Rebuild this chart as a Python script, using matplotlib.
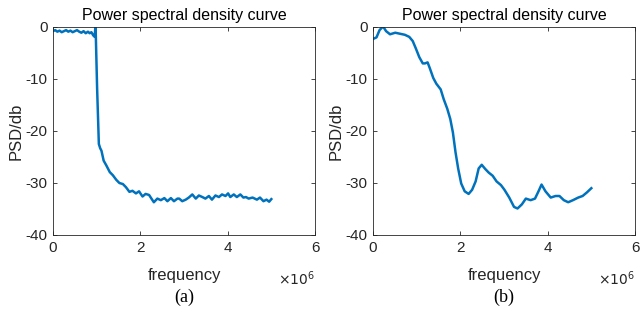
import numpy as np
import matplotlib
matplotlib.use('Agg')
import matplotlib.pyplot as plt

plt.rcParams['font.family'] = ['Liberation Sans', 'DejaVu Sans']

# (a) PSD curve, frequency in units of 1e6
freq_a = [0.00, 0.05, 0.10, 0.15, 0.20, 0.25, 0.30, 0.35, 0.40, 0.45, 0.50, 0.55,
          0.60, 0.65, 0.70, 0.75, 0.80, 0.84, 0.88, 0.92, 0.955, 0.97, 0.98, 1.01,
          1.05, 1.08, 1.11, 1.16, 1.22, 1.30, 1.37, 1.45, 1.52, 1.60, 1.67, 1.75,
          1.82, 1.90, 1.97, 2.05, 2.12, 2.20, 2.27, 2.31, 2.39, 2.47, 2.55, 2.62,
          2.70, 2.77, 2.85, 2.89, 2.96, 3.04, 3.11, 3.19, 3.27, 3.34, 3.42, 3.49,
          3.57, 3.64, 3.72, 3.80, 3.87, 3.95, 4.01, 4.06, 4.14, 4.21, 4.29, 4.36,
          4.42, 4.48, 4.57, 4.67, 4.74, 4.82, 4.89, 4.95, 5.00]
psd_a = [-0.8, -0.6, -0.9, -0.7, -1.0, -0.8, -0.6, -0.9, -0.7, -1.0, -0.8, -0.6,
         -0.9, -1.1, -0.8, -1.2, -0.9, -1.2, -1.0, -1.6, -1.9, 0.0, -1.5, -11.7,
         -22.5, -23.3, -23.8, -25.7, -26.6, -27.9, -28.5, -29.4, -30.0, -30.2, -30.8, -31.7,
         -31.5, -32.0, -31.6, -32.6, -32.1, -32.3, -33.2, -33.7, -33.0, -33.3, -32.9, -33.5,
         -32.9, -33.5, -33.0, -33.0, -33.5, -33.2, -32.8, -32.2, -33.0, -32.4, -32.7, -33.0,
         -32.5, -33.2, -32.4, -32.7, -32.2, -32.5, -32.0, -32.7, -32.2, -32.7, -32.2, -32.8,
         -32.7, -33.0, -32.8, -33.2, -32.8, -33.5, -33.2, -33.6, -33.1]

# (b) PSD curve
freq_b = [0.00, 0.08, 0.15, 0.23, 0.30, 0.39, 0.51, 0.62, 0.73, 0.83, 0.91,
          0.98, 1.06, 1.14, 1.19, 1.25, 1.30, 1.38, 1.45, 1.55, 1.62, 1.70,
          1.77, 1.83, 1.89, 1.95, 2.02, 2.10, 2.19, 2.27, 2.35, 2.42, 2.49,
          2.57, 2.65, 2.74, 2.83, 2.93, 3.01, 3.12, 3.23, 3.31, 3.41, 3.50,
          3.61, 3.71, 3.79, 3.86, 3.95, 4.07, 4.18, 4.27, 4.37, 4.47, 4.58,
          4.70, 4.80, 4.90, 5.00]
psd_b = [-2.3, -2.0, -0.6, 0.1, -0.8, -1.4, -1.1, -1.3, -1.5, -1.9, -2.7,
         -4.1, -5.8, -7.0, -7.0, -6.8, -7.9, -9.8, -10.9, -12.0, -13.9, -15.7,
         -17.7, -20.3, -24.1, -27.2, -30.1, -31.6, -32.1, -31.3, -29.7, -27.2, -26.5,
         -27.3, -28.0, -28.6, -29.7, -30.4, -31.3, -32.8, -34.6, -34.9, -34.1, -33.0,
         -33.3, -33.0, -31.6, -30.3, -31.6, -32.8, -32.5, -32.5, -33.3, -33.7, -33.3,
         -32.8, -32.5, -31.8, -31.0]

xticks = [0, 2, 4, 6]
yticks = [-40, -30, -20, -10, 0]
panel_labels = ['(a)', '(b)']

fig = plt.figure(figsize=(6.41, 3.16), dpi=100)
w, h = 262 / 641, 208 / 316
bottom = (316 - 235) / 316
lefts = [53 / 641, 373 / 641]
gray = '#262626'

for left, fx, py, lab in zip(lefts, [freq_a, freq_b], [psd_a, psd_b], panel_labels):
    ax = fig.add_axes([left, bottom, w, h])
    ax.plot(np.array(fx) * 1e6, py, color='#0072BD', lw=1.8)
    ax.set_xlim(0, 6e6)
    ax.set_ylim(-40, 0)
    ax.set_xticks([t * 1e6 for t in xticks])
    ax.set_xticklabels([str(t) for t in xticks])
    ax.set_yticks(yticks)
    ax.set_yticklabels([str(t) for t in yticks])
    ax.tick_params(direction='in', length=3, width=0.6, top=True, right=True,
                   labelsize=11, colors=gray, pad=4)
    for s in ax.spines.values():
        s.set_color(gray)
        s.set_linewidth(0.6)
    ax.set_title('Power spectral density curve', fontsize=11.5, color='black', pad=5)
    ax.set_xlabel('frequency', fontsize=12, color=gray, labelpad=10)
    ax.set_ylabel('PSD/db', fontsize=12, color=gray, labelpad=1)
    ax.text(1.0, -0.165, r'$\times10^{6}$', transform=ax.transAxes, ha='right',
            va='top', fontsize=10, color=gray)
    fig.text(left + w / 2, 19 / 316, lab, ha='center', va='center',
             fontsize=13, family='Liberation Serif')

fig.savefig('out.png', dpi=100)
